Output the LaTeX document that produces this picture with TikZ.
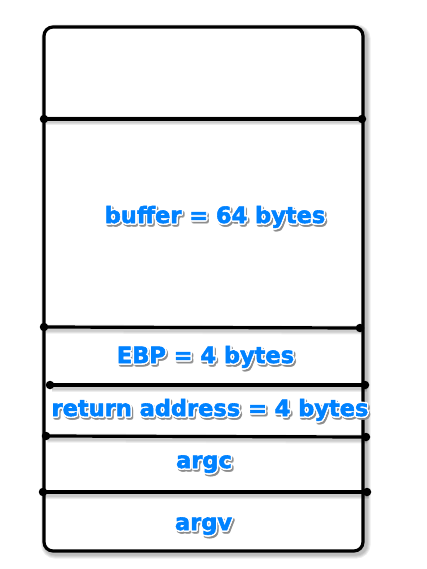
\documentclass[tikz,border=0pt]{standalone}
\usepackage{fontspec}
\newfontfamily\lblfont{DejaVu Sans Bold}[FakeBold=2.5]
\usepackage{contour}
\contourlength{1.4pt}
\definecolor{lblblue}{RGB}{0,130,255}
\tikzset{
  frame/.style={line width=3.2pt, rounded corners=9pt},
  frameshadow/.style={line width=#1, rounded corners=9pt, draw=black, opacity=0.07},
  divider/.style={line width=3.2pt},
  dividershadow/.style={line width=#1, draw=black, opacity=0.07},
  dot/.style={circle, fill=black, inner sep=0pt, minimum size=8.5pt},
  lbl/.style={font=\lblfont\fontsize{22.5}{27}\selectfont, text=lblblue, anchor=base, inner sep=0pt},
  lblshadow/.style={lbl, text=black!45, opacity=0.35},
}
\begin{document}
\begin{tikzpicture}[x=1pt,y=-1pt]
\useasboundingbox (0,0) rectangle (427,569);
% shadows of frame
\foreach \w in {4,6,8,10}{
  \draw[frameshadow=\w pt] (46,29.5) rectangle (365.5,553.5);
}
\draw[frame, fill=white] (44,27) rectangle (363,551);
% divider end points
\node[dot] (l1) at (44,119) {};
\node[dot] (r1) at (362,119) {};
\node[dot] (l2) at (44,327) {};
\node[dot] (r2) at (360,328) {};
\node[dot] (l3) at (50,385) {};
\node[dot] (r3) at (365,385) {};
\node[dot] (l4) at (46,436) {};
\node[dot] (r4) at (366,437) {};
\node[dot] (l5) at (43,492) {};
\node[dot] (r5) at (367,492) {};
\foreach \i in {1,...,5}{
  \foreach \w in {5,7,9}{
    \draw[dividershadow=\w pt] ([shift={(1.5,2)}]l\i.center) -- ([shift={(1.5,2)}]r\i.center);
  }
}
\foreach \i in {1,...,5}{
  \draw[divider] (l\i.center) -- (r\i.center);
}
% labels with shadow
\node[lblshadow] (bufs) at (216.5,225) {\contour{black!45}{buffer = 64 bytes}};
\node[lbl] (buf) at (215,223) {\contour{white}{buffer = 64 bytes}};
\node[lblshadow] (ebps) at (207,365) {\contour{black!45}{EBP = 4 bytes}};
\node[lbl] (ebp) at (205.5,363) {\contour{white}{EBP = 4 bytes}};
\node[lblshadow] (rets) at (211.5,418) {\contour{black!45}{return address = 4 bytes}};
\node[lbl] (ret) at (210,416) {\contour{white}{return address = 4 bytes}};
\node[lblshadow] (argcs) at (205.5,470) {\contour{black!45}{argc}};
\node[lbl] (argc) at (204,468) {\contour{white}{argc}};
\node[lblshadow] (argvs) at (205,532) {\contour{black!45}{argv}};
\node[lbl] (argv) at (203.5,530) {\contour{white}{argv}};
\end{tikzpicture}
\end{document}
